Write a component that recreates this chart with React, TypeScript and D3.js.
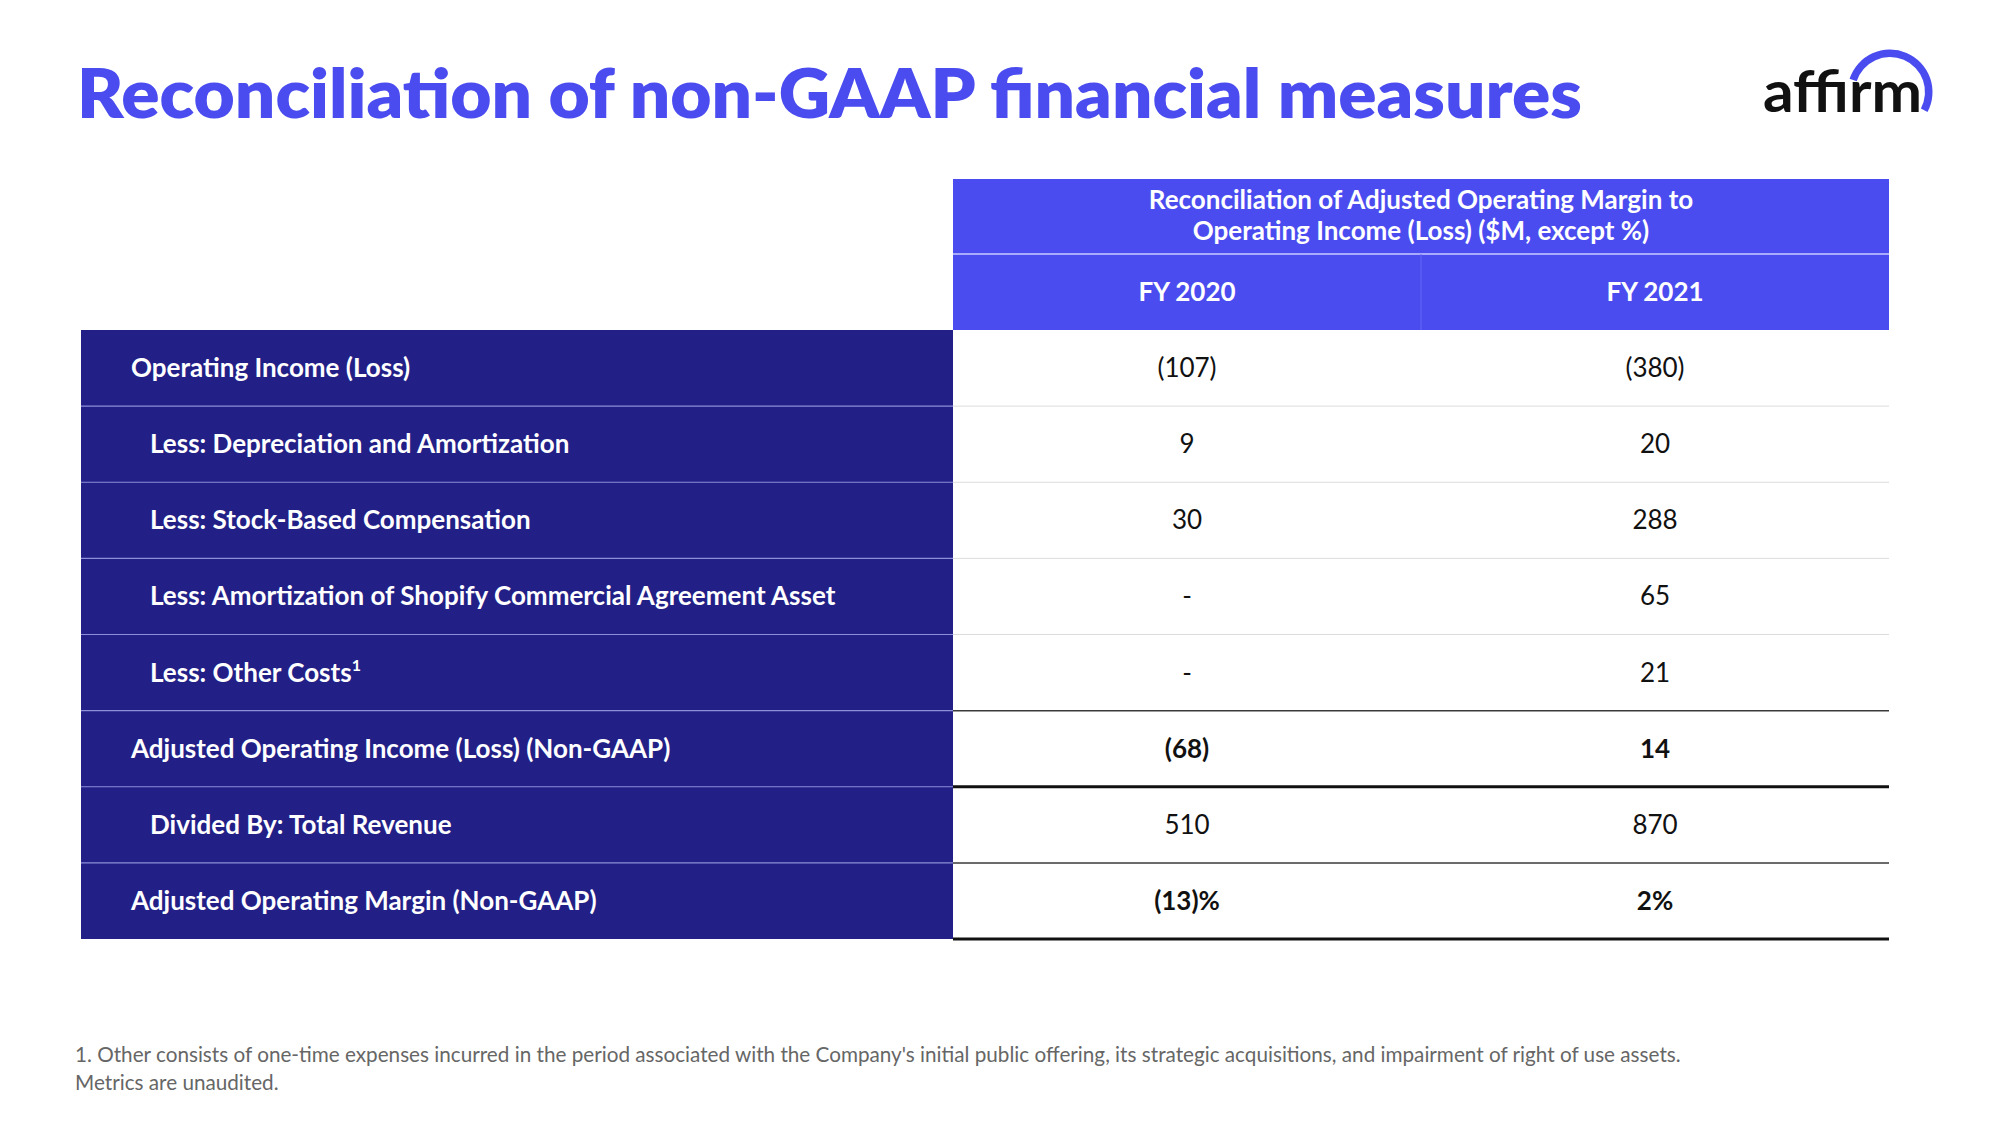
import React from "react";
import * as d3 from "d3";

const titleText = "Reconciliation of non-GAAP financial measures";
const headerLines = [
  "Reconciliation of Adjusted Operating Margin to",
  "Operating Income (Loss) ($M, except %)",
];
const periods = ["FY 2020", "FY 2021"];
const rowLabels = [
  "Operating Income (Loss)",
  "Less: Depreciation and Amortization",
  "Less: Stock-Based Compensation",
  "Less: Amortization of Shopify Commercial Agreement Asset",
  "Less: Other Costs",
  "Adjusted Operating Income (Loss) (Non-GAAP)",
  "Divided By: Total Revenue",
  "Adjusted Operating Margin (Non-GAAP)",
];
const rowSup = ["", "", "", "", "1", "", "", ""];
const rowIndented = [false, true, true, true, true, false, true, false];
const rowBold = [false, false, false, false, false, true, false, true];
const fy2020 = ["(107)", "9", "30", "-", "-", "(68)", "510", "(13)%"];
const fy2021 = ["(380)", "20", "288", "65", "21", "14", "870", "2%"];
// line style below each row: 0 light, 1 dark thin, 2 thick black
const rowRule = [0, 0, 0, 0, 1, 2, 1, 2];
const footnotes = [
  "1. Other consists of one-time expenses incurred in the period associated with the Company's initial public offering, its strategic acquisitions, and impairment of right of use assets.",
  "Metrics are unaudited.",
];

const BLUE = "#4a4cf0";
const NAVY = "#221f87";
const FONT = "Lato, 'Open Sans', sans-serif";

export default function App() {
  const W = 2000;
  const H = 1125;
  const tableLeft = 81;
  const labelRight = 953;
  const tableRight = 1889;
  const headTop = 179;
  const headMid = 254;
  const bodyTop = 330;
  const bodyBottom = 939;
  const FS = 26;

  const y = d3
    .scaleBand<number>()
    .domain(d3.range(rowLabels.length))
    .range([bodyTop, bodyBottom]);
  const x = d3.scaleBand<string>().domain(periods).range([labelRight, tableRight]);
  const values = [fy2020, fy2021];

  const arc = d3
    .arc()
    .innerRadius(35)
    .outerRadius(42.5)
    .startAngle((-72 * Math.PI) / 180)
    .endAngle((118 * Math.PI) / 180);

  return (
    <svg
      width={W}
      height={H}
      style={{ position: "absolute", left: 0, top: 0, display: "block", background: "#fff" }}
      fontFamily={FONT}
    >
      <rect width={W} height={H} fill="#fff" />
      {/* Title */}
      <text
        x={77}
        y={118}
        fill={BLUE}
        fontSize={68}
        fontWeight={800}
        textLength={1505}
        lengthAdjust="spacingAndGlyphs"
      >
        {titleText}
      </text>

      {/* Logo */}
      <g>
        <text
          x={1763}
          y={112}
          fill="#111"
          fontSize={58}
          fontWeight={700}
          textLength={159}
          lengthAdjust="spacingAndGlyphs"
        >
          affirm
        </text>
        <path d={arc({} as any) || ""} transform="translate(1890,92)" fill={BLUE} />
      </g>

      {/* Header */}
      <rect x={labelRight} y={headTop} width={tableRight - labelRight} height={bodyTop - headTop} fill={BLUE} />
      <line x1={labelRight} x2={tableRight} y1={headMid} y2={headMid} stroke="#c9caff" strokeWidth={1.5} />
      <line x1={x("FY 2021")} x2={x("FY 2021")} y1={headMid} y2={bodyTop} stroke="#6466f5" strokeWidth={1} />
      {headerLines.map((t, i) => (
        <text
          key={t}
          x={(labelRight + tableRight) / 2}
          y={209 + i * 31}
          textAnchor="middle"
          fill="#fff"
          fontSize={FS}
          fontWeight={700}
        >
          {t}
        </text>
      ))}
      {periods.map((p) => (
        <text
          key={p}
          x={(x(p) as number) + x.bandwidth() / 2}
          y={(headMid + bodyTop) / 2 + 9}
          textAnchor="middle"
          fill="#fff"
          fontSize={FS}
          fontWeight={700}
        >
          {p}
        </text>
      ))}

      {/* Label column */}
      <rect x={tableLeft} y={bodyTop} width={labelRight - tableLeft} height={bodyBottom - bodyTop} fill={NAVY} />
      {rowLabels.map((lab, i) => {
        const top = y(i) as number;
        const cy = top + y.bandwidth() / 2;
        return (
          <g key={lab}>
            {i > 0 && (
              <line x1={tableLeft} x2={labelRight} y1={top} y2={top} stroke="#8d8fd8" strokeWidth={1.2} />
            )}
            <text
              x={rowIndented[i] ? 150 : 131}
              y={cy + 9}
              fill="#fff"
              fontSize={FS}
              fontWeight={700}
            >
              {lab}
              {rowSup[i] && (
                <tspan fontSize={16} dy={-11}>
                  {rowSup[i]}
                </tspan>
              )}
            </text>
          </g>
        );
      })}

      {/* Value cells */}
      {rowLabels.map((lab, i) => {
        const top = y(i) as number;
        const bottom = top + y.bandwidth();
        const cy = top + y.bandwidth() / 2;
        const r = rowRule[i];
        return (
          <g key={"v" + i}>
            {periods.map((p, j) => (
              <text
                key={p}
                x={(x(p) as number) + x.bandwidth() / 2}
                y={cy + 9}
                textAnchor="middle"
                fill="#111"
                fontSize={FS}
                fontWeight={rowBold[i] ? 700 : 400}
              >
                {values[j][i]}
              </text>
            ))}
            <line
              x1={labelRight}
              x2={tableRight}
              y1={bottom}
              y2={bottom}
              stroke={r === 0 ? "#dcdcdc" : r === 1 ? "#3a3a3a" : "#111"}
              strokeWidth={r === 0 ? 1 : r === 1 ? 1.5 : 3}
            />
          </g>
        );
      })}

      {/* Footnotes */}
      {footnotes.map((t, i) => (
        <text key={i} x={75} y={1062 + i * 28} fill="#666" fontSize={20.7}>
          {t}
        </text>
      ))}
    </svg>
  );
}
